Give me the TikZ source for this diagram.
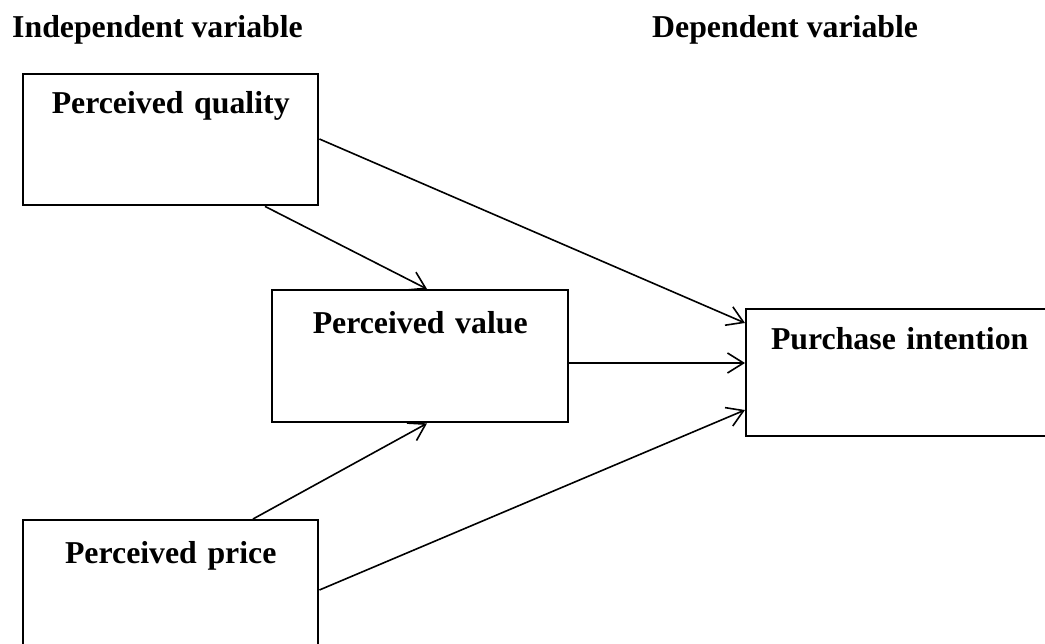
\documentclass[tikz,border=0pt]{standalone}
\usepackage{fontspec}
\setmainfont{Liberation Serif}
\usetikzlibrary{arrows.meta}
\begin{document}
\begin{tikzpicture}[x=1pt,y=-1pt,
  box/.style={draw,line width=2.4pt,inner sep=0pt,text width=#1,align=center,anchor=north west,
    font=\bfseries\fontsize{31.8}{38}\selectfont},
  title/.style={anchor=base west,inner sep=0pt,font=\bfseries\fontsize{31.8}{38}\selectfont},
  conn/.style={line width=1.6pt,-{Straight Barb[length=16pt,width=20pt,line width=1.6pt]}}]
\useasboundingbox (0,0) rectangle (1045,644);
\clip (0,0) rectangle (1045,644);
\node[title] (ti) at (12,38) {Independent variable};
\node[title] (td) at (652,38) {Dependent variable};
\node[box=295pt,text height=39pt,text depth=92pt] (q) at (22,73) {Perceived quality};
\node[box=296pt,text height=43pt,text depth=89pt] (v) at (271,289) {Perceived value};
\node[box=307pt,text height=40pt,text depth=87pt] (p) at (745,308) {Purchase intention};
\node[box=295pt,text height=43pt,text depth=88pt] (r) at (22,519) {Perceived price};
\draw[conn] ([xshift=243pt]q.south west) -- ([xshift=156pt]v.north west);
\draw[conn] ([yshift=-66pt]q.north east) -- ([yshift=-15pt]p.north west);
\draw[conn] ([yshift=-74pt]v.north east) -- ([yshift=-55pt]p.north west);
\draw[conn] ([xshift=231pt]r.north west) -- ([xshift=156pt]v.south west);
\draw[conn] ([yshift=-71pt]r.north east) -- ([yshift=-102pt]p.north west);
\end{tikzpicture}
\end{document}
